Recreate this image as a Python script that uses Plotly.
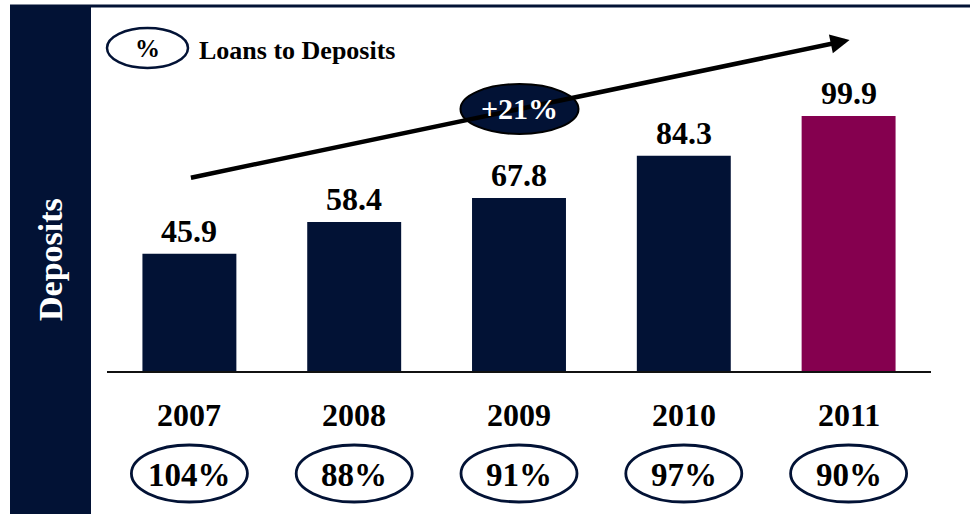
import plotly.graph_objects as go

# Deposits by year (bn) and loans-to-deposits ratio
years = ["2007", "2008", "2009", "2010", "2011"]
deposits = [45.9, 58.4, 67.8, 84.3, 99.9]
loan_to_deposit = ["104%", "88%", "91%", "97%", "90%"]
growth_label = "+21%"

NAVY = "#021235"
PLUM = "#85004F"
SERIF = "Liberation Serif, Times New Roman, serif"

W, H = 970, 514
ML, MR, MT, MB = 107, 39, 10, 143
PW, PH = W - ML - MR, H - MT - MB
N = len(years)


def px_x(p):
    return (p - ML) / PW


def px_y(p):
    return (H - MB - p) / PH


def cat_paper(i):
    # paper x of a category centre on the [-0.5, N-0.5] axis
    return (i + 0.5) / N


x = list(range(N))
colors = [NAVY] * (N - 1) + [PLUM]

fig = go.Figure(
    go.Bar(
        x=x,
        y=deposits,
        width=0.57,
        marker=dict(color=colors, line=dict(width=0)),
        hoverinfo="skip",
    )
)

ymax = PH / 2.553
fig.update_layout(
    width=W,
    height=H,
    margin=dict(l=ML, r=MR, t=MT, b=MB),
    paper_bgcolor="white",
    plot_bgcolor="white",
    showlegend=False,
    xaxis=dict(
        range=[-0.5, N - 0.5],
        showgrid=False,
        zeroline=False,
        showticklabels=False,
        showline=True,
        linecolor="#111111",
        linewidth=2,
        fixedrange=True,
    ),
    yaxis=dict(
        range=[0, ymax],
        showgrid=False,
        zeroline=False,
        showticklabels=False,
        showline=False,
        fixedrange=True,
    ),
)

shapes = []
annotations = []

# Left title band and top rule
shapes.append(dict(type="rect", xref="paper", yref="paper",
                   x0=px_x(10), x1=px_x(91), y0=px_y(H + 2), y1=px_y(6),
                   fillcolor=NAVY, line=dict(width=0), layer="below"))
shapes.append(dict(type="line", xref="paper", yref="paper",
                   x0=px_x(10), x1=px_x(W + 2), y0=px_y(6), y1=px_y(6),
                   line=dict(color=NAVY, width=3)))
annotations.append(dict(xref="paper", yref="paper", x=px_x(50), y=px_y(260),
                        xanchor="center", yanchor="middle",
                        text="<b>Deposits</b>", textangle=-90, showarrow=False,
                        font=dict(family=SERIF, size=34, color="white")))

# Key: oval = loans-to-deposits ratio
shapes.append(dict(type="circle", xref="paper", yref="paper",
                   x0=px_x(107), x1=px_x(188), y0=px_y(68), y1=px_y(28),
                   fillcolor="white", line=dict(color=NAVY, width=2.5)))
annotations.append(dict(xref="paper", yref="paper", x=px_x(147.5), y=px_y(48),
                        xanchor="center", yanchor="middle",
                        text="<b>%</b>", showarrow=False,
                        font=dict(family=SERIF, size=25, color="black")))
annotations.append(dict(xref="paper", yref="paper", x=px_x(197), y=px_y(50),
                        xanchor="left", yanchor="middle",
                        text="<b>Loans to Deposits</b>", showarrow=False,
                        font=dict(family=SERIF, size=26, color="black")))

# Value labels above bars
for xi, v in zip(x, deposits):
    annotations.append(dict(x=xi, y=v, xref="x", yref="y", yanchor="middle",
                            yshift=23, text=f"<b>{v:.1f}</b>", showarrow=False,
                            font=dict(family=SERIF, size=32, color="black")))

# Year labels and ratio ovals below the axis
for xi, yr, r in zip(x, years, loan_to_deposit):
    cx = cat_paper(xi)
    annotations.append(dict(x=cx, y=px_y(415), xref="paper", yref="paper",
                            xanchor="center", yanchor="middle",
                            text=f"<b>{yr}</b>", showarrow=False,
                            font=dict(family=SERIF, size=32, color="black")))
    shapes.append(dict(type="circle", xref="paper", yref="paper",
                       x0=cx - 58 / PW, x1=cx + 58 / PW,
                       y0=px_y(502), y1=px_y(445),
                       fillcolor="white", line=dict(color=NAVY, width=2.8)))
    annotations.append(dict(x=cx, y=px_y(475), xref="paper", yref="paper",
                            xanchor="center", yanchor="middle",
                            text=f"<b>{r}</b>", showarrow=False,
                            font=dict(family=SERIF, size=33, color="black")))

# Growth arrow from the first to the last year
tail = (x[0], deposits[0] * 1.647)
head = (x[-1] + 0.006, deposits[-1] * 1.298)
annotations.append(dict(x=head[0], y=head[1], ax=tail[0], ay=tail[1],
                        xref="x", yref="y", axref="x", ayref="y",
                        text="", showarrow=True, arrowhead=2, arrowsize=0.85,
                        arrowwidth=4.5, arrowcolor="black", standoff=0))

# Growth badge on the arrow
mid_x = (tail[0] + head[0]) / 2
mid_y = (tail[1] + head[1]) / 2
shapes.append(dict(type="circle", xref="x", yref="y",
                   xsizemode="pixel", ysizemode="pixel",
                   xanchor=mid_x, yanchor=mid_y,
                   x0=-59, x1=59, y0=-25, y1=25,
                   fillcolor=NAVY, line=dict(color="black", width=2)))
annotations.append(dict(x=mid_x, y=mid_y, xref="x", yref="y",
                        text=f"<b>{growth_label}</b>", showarrow=False,
                        font=dict(family=SERIF, size=30, color="white")))

fig.update_layout(shapes=shapes, annotations=annotations)

fig.write_html("out.html", config={"displayModeBar": False})
